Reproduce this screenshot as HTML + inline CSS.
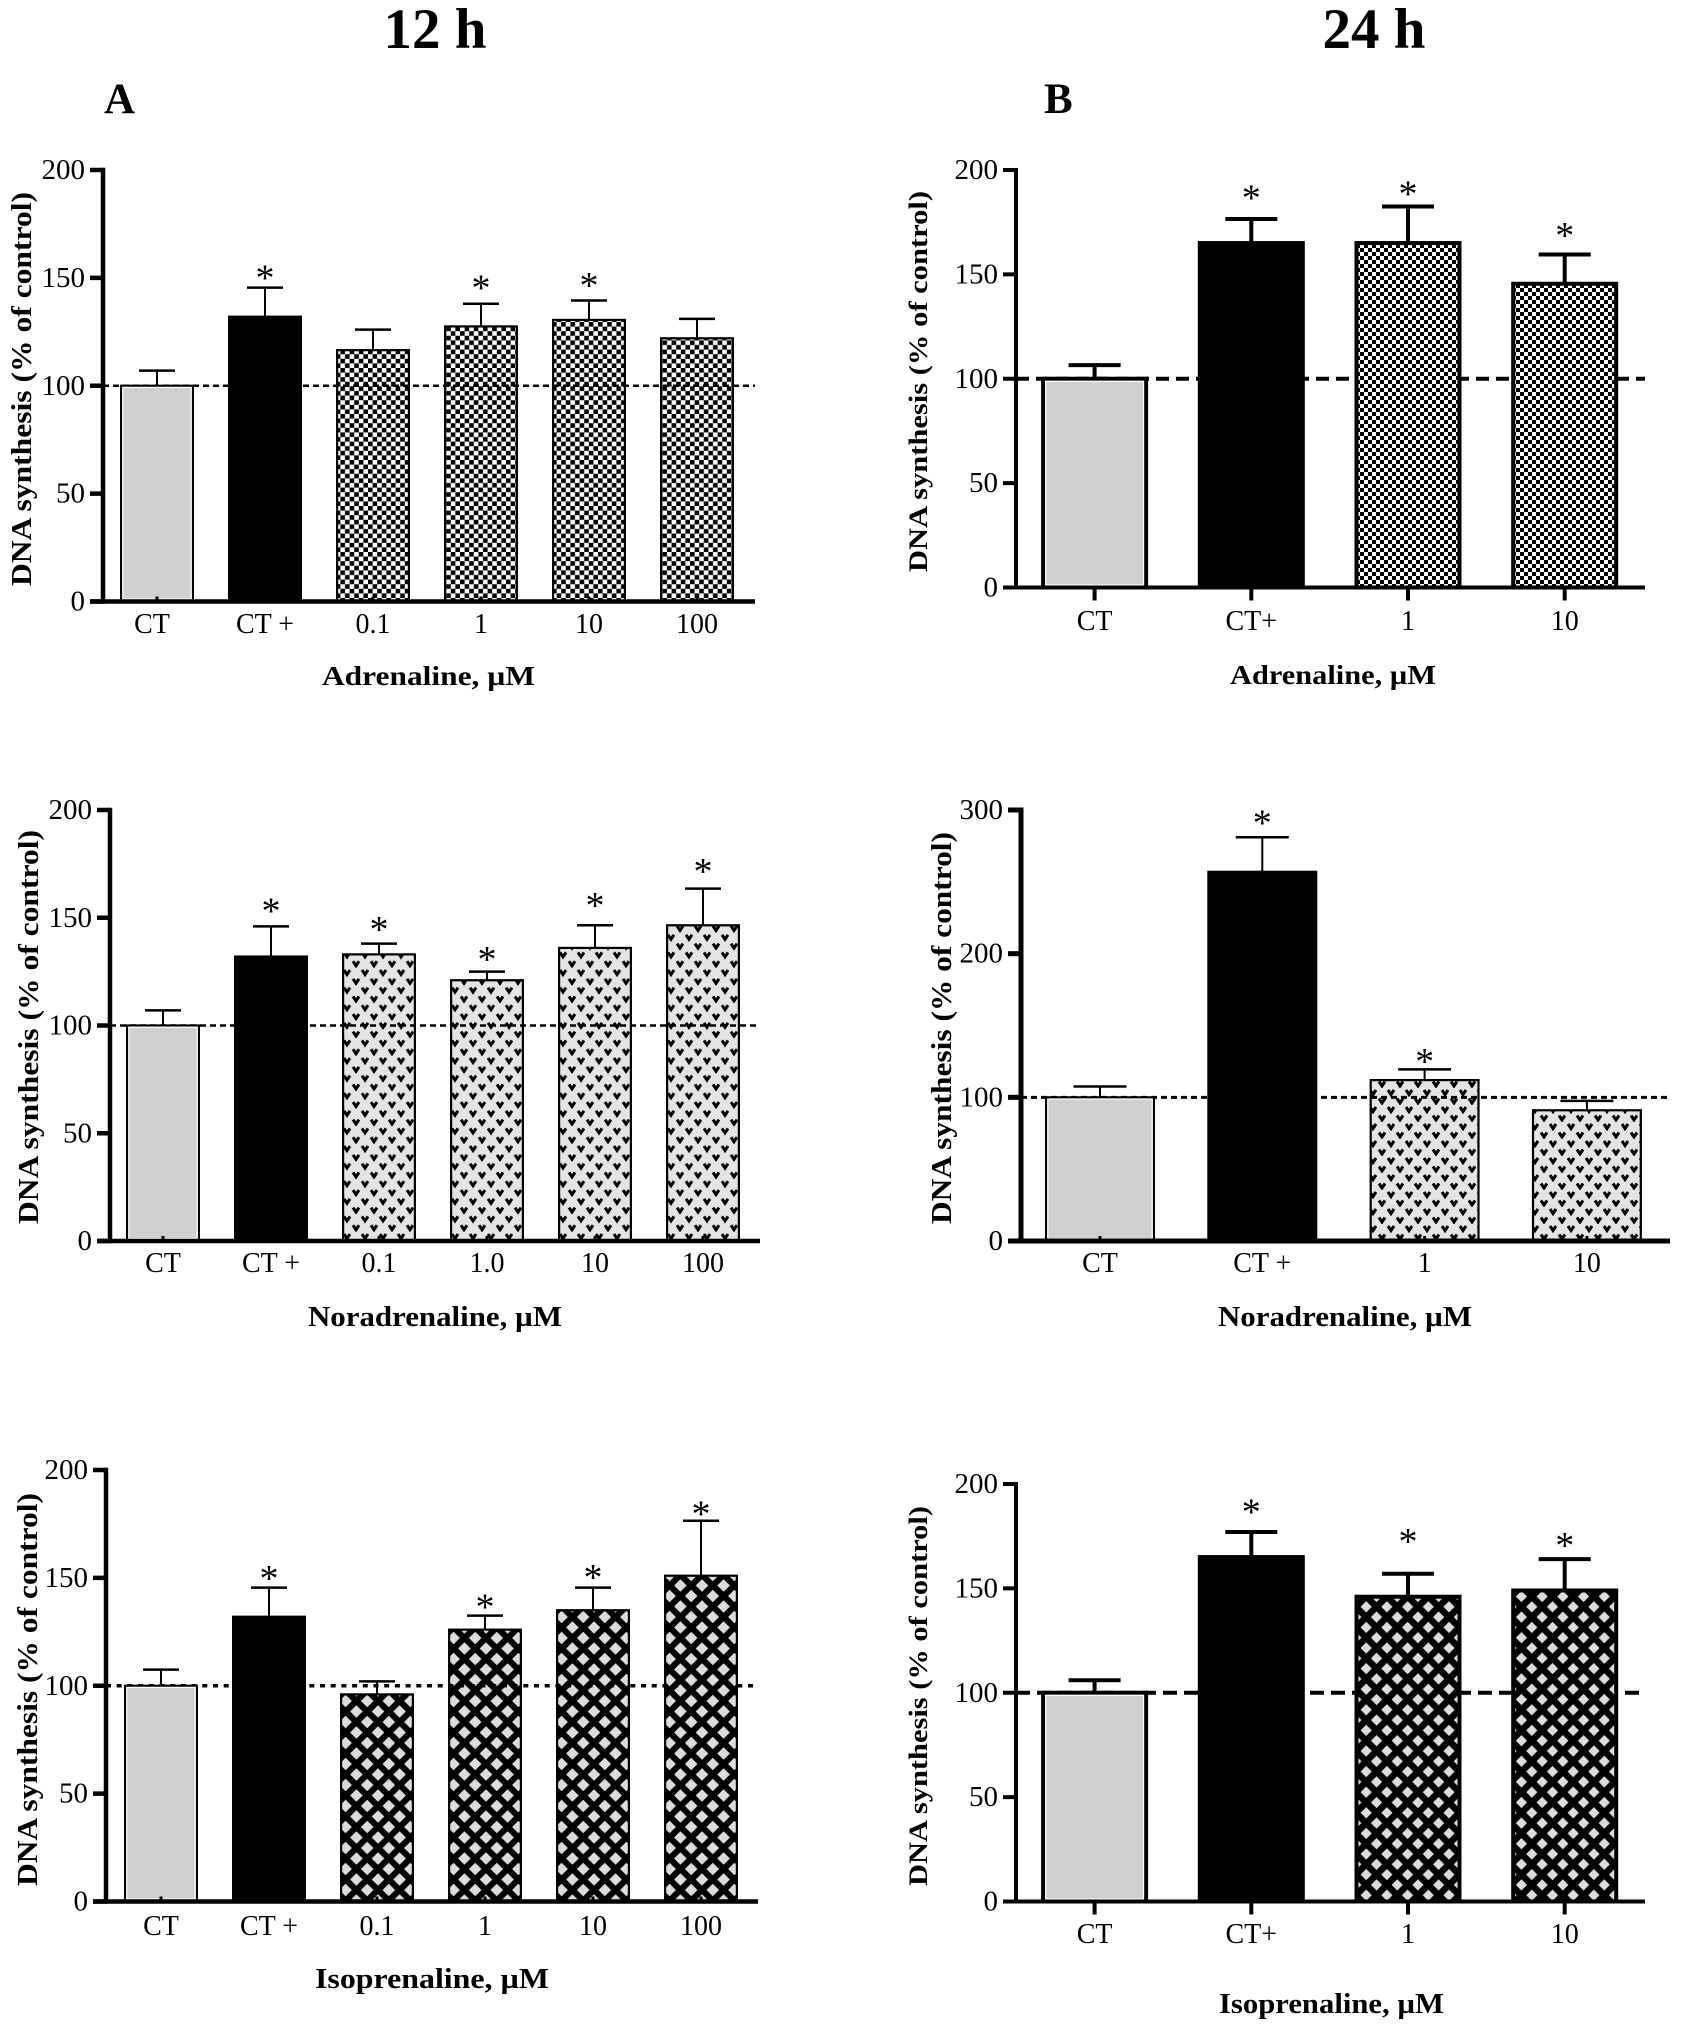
<!DOCTYPE html>
<html lang="en">
<head>
<meta charset="utf-8">
<title>DNA synthesis at 12 h and 24 h</title>
<style>
html,body{margin:0;padding:0;background:#fff;}
svg{display:block;}
text{font-family:"Liberation Serif",serif;fill:#000;}
</style>
</head>
<body>
<svg id="figure" xmlns="http://www.w3.org/2000/svg" width="1683" height="2031" viewBox="0 0 1683 2031">
  <defs>
    <pattern id="checkA" patternUnits="userSpaceOnUse" width="9.2" height="9.2">
      <rect width="9.2" height="9.2" fill="#fff"/><rect width="4.6" height="4.6" fill="#000"/><rect x="4.6" y="4.6" width="4.6" height="4.6" fill="#000"/>
    </pattern>
    <pattern id="checkB" patternUnits="userSpaceOnUse" width="8" height="8">
      <rect width="8" height="8" fill="#fff"/><rect width="4" height="4" fill="#000"/><rect x="4" y="4" width="4" height="4" fill="#000"/>
    </pattern>
    <pattern id="heartA" patternUnits="userSpaceOnUse" width="18" height="17.6">
      <rect width="18" height="17.6" fill="#e4e4e4"/>
      <path d="M2 2 L5 6.5 L8 2" fill="none" stroke="#000" stroke-width="3"/>
      <path d="M11 10.8 L14 15.3 L17 10.8" fill="none" stroke="#000" stroke-width="3"/>
    </pattern>
    <pattern id="heartB" patternUnits="userSpaceOnUse" width="18" height="17">
      <rect width="18" height="17" fill="#e4e4e4"/>
      <path d="M2 2 L5 6.5 L8 2" fill="none" stroke="#000" stroke-width="3"/>
      <path d="M11 10.5 L14 15 L17 10.5" fill="none" stroke="#000" stroke-width="3"/>
    </pattern>
    <pattern id="diamondA" patternUnits="userSpaceOnUse" width="21.6" height="21">
      <rect width="21.6" height="21" fill="#000"/>
      <path d="M10.8 4.2 L17.1 10.5 L10.8 16.8 L4.5 10.5 Z" fill="#dcdcdc"/>
      <path d="M0 -6.3 L6.3 0 L0 6.3 L-6.3 0 Z" fill="#dcdcdc"/>
      <path d="M21.6 -6.3 L27.9 0 L21.6 6.3 L15.3 0 Z" fill="#dcdcdc"/>
      <path d="M0 14.7 L6.3 21 L0 27.3 L-6.3 21 Z" fill="#dcdcdc"/>
      <path d="M21.6 14.7 L27.9 21 L21.6 27.3 L15.3 21 Z" fill="#dcdcdc"/>
    </pattern>
    <pattern id="diamondB" patternUnits="userSpaceOnUse" width="20.7" height="20.6">
      <rect width="20.7" height="20.6" fill="#000"/>
      <path d="M10.35 4.7 L15.95 10.3 L10.35 15.9 L4.75 10.3 Z" fill="#dcdcdc"/>
      <path d="M0 -5.6 L5.6 0 L0 5.6 L-5.6 0 Z" fill="#dcdcdc"/>
      <path d="M20.7 -5.6 L26.3 0 L20.7 5.6 L15.1 0 Z" fill="#dcdcdc"/>
      <path d="M0 15 L5.6 20.6 L0 26.2 L-5.6 20.6 Z" fill="#dcdcdc"/>
      <path d="M20.7 15 L26.3 20.6 L20.7 26.2 L15.1 20.6 Z" fill="#dcdcdc"/>
    </pattern>
  </defs>
  <text x="435" y="48" font-size="57" font-weight="bold" text-anchor="middle">12 h</text>
  <text x="1374" y="48" font-size="57" font-weight="bold" text-anchor="middle">24 h</text>
  <text x="104" y="113" font-size="43" font-weight="bold">A</text>
  <text x="1044" y="113" font-size="43" font-weight="bold">B</text>
</svg>
<script>
// Y-axis tick labels
const yTicks200 = [0, 50, 100, 150, 200];
const yTicks300 = [0, 100, 200, 300];

// 12 h adrenaline
const categoriesA1 = ['CT', 'CT +', '0.1', '1', '10', '100'];
const valuesA1 = [100, 132, 116.5, 127.5, 130.5, 122];
const errorTopsA1 = [107, 145.5, 126, 138, 139.5, 131];
const starLevelsA1 = [null, 151.3, null, 146.6, 147.8, null];

// 12 h noradrenaline
const categoriesA2 = ['CT', 'CT +', '0.1', '1.0', '10', '100'];
const valuesA2 = [100, 132, 133, 121, 136, 146.5];
const errorTopsA2 = [107, 146, 138, 125, 146.5, 163.5];
const starLevelsA2 = [null, 154.5, 146, 132, 157, 172.8];

// 12 h isoprenaline
const categoriesA3 = ['CT', 'CT +', '0.1', '1', '10', '100'];
const valuesA3 = [100, 132, 96, 126, 135, 151];
const errorTopsA3 = [107.5, 145.5, 102, 132.5, 145.5, 176.5];
const starLevelsA3 = [null, 151, null, 138, 151.5, 181];

// 24 h adrenaline
const categoriesB1 = ['CT', 'CT+', '1', '10'];
const valuesB1 = [100, 165, 165, 145.5];
const errorTopsB1 = [106.5, 176.5, 182.5, 159.5];
const starLevelsB1 = [null, 188, 190, 170];

// 24 h noradrenaline
const categoriesB2 = ['CT', 'CT +', '1', '10'];
const valuesB2 = [100, 257, 112, 91];
const errorTopsB2 = [107.5, 281, 119.5, 97.5];
const starLevelsB2 = [null, 293, 127, null];

// 24 h isoprenaline
const categoriesB3 = ['CT', 'CT+', '1', '10'];
const valuesB3 = [100, 165, 146, 149];
const errorTopsB3 = [106, 177, 157, 164];
const starLevelsB3 = [null, 188, 174, 172];

const panels = [
  { id:'a1', cats:categoriesA1, vals:valuesA1, errs:errorTopsA1, stars:starLevelsA1, ticks:yTicks200, yMax:200,
    axisX:103, y0:601.5, yTop:170, xEnd:755, first:157, step:108, barW:74, fill:'url(#checkA)', heavy:0, blend:1, firstLabelDx:-5,
    tickBaseline:633, xTitle:'Adrenaline, µM', xTitleX:322, xTitleW:213, xTitleY:685, xTitleSize:27,
    yTitleX:31, yTitleTop:192, yTitleBottom:586, yTitleSize:28, refDash:'6 4', refW:2.5, refEnd:755, cap:36, stem:2, capW:2.5, border:2.2, axisW:4.5 },
  { id:'a2', cats:categoriesA2, vals:valuesA2, errs:errorTopsA2, stars:starLevelsA2, ticks:yTicks200, yMax:200,
    axisX:110, y0:1241, yTop:810, xEnd:760, first:163, step:108, barW:74, fill:'url(#heartA)', heavy:0, blend:1, firstLabelDx:0,
    tickBaseline:1272, xTitle:'Noradrenaline, µM', xTitleX:308, xTitleW:254, xTitleY:1326, xTitleSize:29,
    yTitleX:38, yTitleTop:830, yTitleBottom:1224, yTitleSize:28, refDash:'6 4', refW:2.5, refEnd:760, cap:36, stem:2, capW:2.5, border:2.2, axisW:4.5 },
  { id:'a3', cats:categoriesA3, vals:valuesA3, errs:errorTopsA3, stars:starLevelsA3, ticks:yTicks200, yMax:200,
    axisX:106, y0:1901.5, yTop:1470, xEnd:758, first:161, step:108, barW:74, fill:'url(#diamondA)', heavy:0, blend:1, firstLabelDx:0,
    tickBaseline:1935, xTitle:'Isoprenaline, µM', xTitleX:315, xTitleW:234, xTitleY:1988, xTitleSize:29,
    yTitleX:37, yTitleTop:1493, yTitleBottom:1886, yTitleSize:28, refDash:'5 5.7', refW:3.5, refEnd:758, cap:36, stem:2, capW:2.5, border:2.2, axisW:4.5 },
  { id:'b1', cats:categoriesB1, vals:valuesB1, errs:errorTopsB1, stars:starLevelsB1, ticks:yTicks200, yMax:200,
    axisX:1016, y0:587.5, yTop:170, xEnd:1645, first:1094.6, step:156.7, barW:107, fill:'url(#checkB)', heavy:1, blend:0, firstLabelDx:0,
    tickBaseline:630, xTitle:'Adrenaline, µM', xTitleX:1230, xTitleW:206, xTitleY:684, xTitleSize:27,
    yTitleX:927, yTitleTop:191, yTitleBottom:572, yTitleSize:26, refDash:'13 7', refW:4, refEnd:1645, cap:52, stem:4, capW:4, border:4, axisW:4 },
  { id:'b2', cats:categoriesB2, vals:valuesB2, errs:errorTopsB2, stars:starLevelsB2, ticks:yTicks300, yMax:300,
    axisX:1021, y0:1241, yTop:810, xEnd:1670, first:1100, step:162.3, barW:110, fill:'url(#heartB)', heavy:0, blend:1, firstLabelDx:0,
    tickBaseline:1272, xTitle:'Noradrenaline, µM', xTitleX:1218, xTitleW:254, xTitleY:1326, xTitleSize:29,
    yTitleX:951, yTitleTop:832, yTitleBottom:1224, yTitleSize:28, refDash:'6 4', refW:3, refEnd:1670, cap:53, stem:2, capW:2.5, border:2.2, axisW:5 },
  { id:'b3', cats:categoriesB3, vals:valuesB3, errs:errorTopsB3, stars:starLevelsB3, ticks:yTicks200, yMax:200,
    axisX:1016, y0:1901.5, yTop:1484, xEnd:1645, first:1094.6, step:156.7, barW:107, fill:'url(#diamondB)', heavy:1, blend:0, firstLabelDx:0,
    tickBaseline:1943, xTitle:'Isoprenaline, µM', xTitleX:1219, xTitleW:225, xTitleY:2013, xTitleSize:28,
    yTitleX:927, yTitleTop:1506, yTitleBottom:1886, yTitleSize:26, refDash:'14 7', refW:4, refEnd:1645, cap:52, stem:4, capW:4, border:4, axisW:4 }
];

const NS = 'http://www.w3.org/2000/svg';
const figure = document.getElementById('figure');

function make(tag, attrs, parent, content) {
  const node = document.createElementNS(NS, tag);
  for (const key in attrs) node.setAttribute(key, attrs[key]);
  if (content !== undefined) node.textContent = content;
  parent.appendChild(node);
  return node;
}

panels.forEach(function (p) {
  const yScale = function (v) { return p.y0 - (v / p.yMax) * (p.y0 - p.yTop); };
  const xScale = function (i) { return p.first + i * p.step; };

  const group = make('g', {}, figure);
  
  

  // reference line drawn first; some patterned bars multiply over it
  const ref = make('line', { x1: p.axisX, x2: p.refEnd, y1: yScale(100), y2: yScale(100), stroke: '#000', 'stroke-width': p.refW, 'stroke-dasharray': p.refDash }, group);
  
  

  p.vals.forEach(function (value, i) {
    const cx = xScale(i);
    const left = cx - p.barW / 2;
    const top = yScale(value);
    const errTop = yScale(p.errs[i]);

    const stem = make('line', { x1: cx, x2: cx, y1: errTop, y2: top, stroke: '#000', 'stroke-width': p.stem }, group);
    
    

    const cap = make('line', { x1: cx - p.cap / 2, x2: cx + p.cap / 2, y1: errTop, y2: errTop, stroke: '#000', 'stroke-width': p.capW }, group);
    
    

    const inset = p.border / 2;
    const fill = i === 0 ? '#d0d0d0' : (i === 1 ? '#000' : p.fill);
    const bar = make('rect', { x: left + inset, y: top, width: p.barW - p.border, height: p.y0 - top, fill: fill, stroke: '#000', 'stroke-width': p.border }, group);
    
    
    if (i > 1 && p.blend) bar.style.mixBlendMode = 'multiply';

    if (i === 0) {
      const halo = make('rect', { x: left + p.border + 0.6, y: top + p.border / 2 + 0.6, width: p.barW - 2 * p.border - 1.2, height: p.y0 - top - p.border / 2 - 3, fill: 'none', stroke: '#fff', 'stroke-width': 1.2 }, group);
      
      
    }

    const tickLen = p.heavy ? 13 : -5;
    const xTick = make('line', { x1: cx, x2: cx, y1: p.y0, y2: p.y0 + tickLen, stroke: '#000', 'stroke-width': p.heavy ? 4 : 3 }, group);
    
    

    const labelX = cx + (i === 0 ? p.firstLabelDx : 0);
    const label = make('text', { x: labelX, y: p.tickBaseline, 'font-size': 28, 'text-anchor': 'middle' }, group, p.cats[i]);
    
    

    if (p.stars[i] !== null) {
      const star = make('text', { x: cx, y: yScale(p.stars[i]) + 15.5, 'font-size': 38, 'text-anchor': 'middle' }, group, '*');
      
      
    }
  });

  const yAxis = make('line', { x1: p.axisX, x2: p.axisX, y1: p.yTop - p.axisW / 2, y2: p.y0 + p.axisW / 2, stroke: '#000', 'stroke-width': p.axisW }, group);
  
  

  const xAxis = make('line', { x1: p.axisX - 13, x2: p.xEnd, y1: p.y0, y2: p.y0, stroke: '#000', 'stroke-width': p.axisW }, group);
  
  

  p.ticks.forEach(function (t) {
    const tick = make('line', { x1: p.axisX - 13, x2: p.axisX, y1: yScale(t), y2: yScale(t), stroke: '#000', 'stroke-width': p.axisW }, group);
    
    

    const tickLabel = make('text', { x: p.axisX - 18, y: yScale(t) + 9, 'font-size': 29, 'text-anchor': 'end' }, group, String(t));
    
    
  });

  const xTitle = make('text', { x: p.xTitleX, y: p.xTitleY, 'font-size': p.xTitleSize, 'font-weight': 'bold', textLength: p.xTitleW, lengthAdjust: 'spacingAndGlyphs' }, group, p.xTitle);
  
  

  const yLen = p.yTitleBottom - p.yTitleTop;
  const yTitle = make('text', { transform: 'translate(' + p.yTitleX + ' ' + p.yTitleBottom + ') rotate(-90)', 'font-size': p.yTitleSize, 'font-weight': 'bold', textLength: yLen, lengthAdjust: 'spacingAndGlyphs' }, group, 'DNA synthesis (% of control)');
  
  
});
</script>
</body>
</html>
